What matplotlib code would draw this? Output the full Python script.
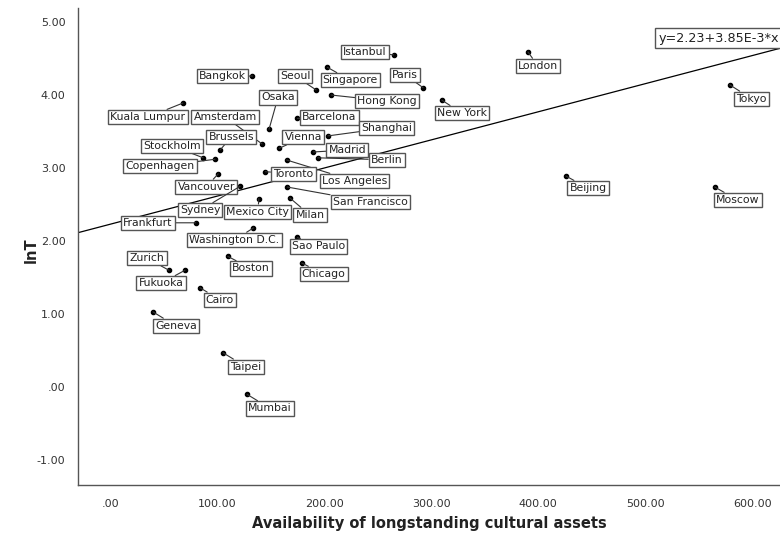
import numpy as np
import matplotlib
matplotlib.use("Agg")
import matplotlib.pyplot as plt

# City data
cities = ["Istanbul", "Seoul", "Singapore", "Paris", "Hong Kong", "Barcelona",
          "Shanghai", "Vienna", "Madrid", "Berlin", "Los Angeles", "Toronto",
          "San Francisco", "Milan", "Mexico City", "Osaka", "Amsterdam", "Bangkok",
          "Kuala Lumpur", "Brussels", "Stockholm", "Copenhagen", "Vancouver",
          "Sydney", "Frankfurt", "Washington D.C.", "Sao Paulo", "Boston",
          "Chicago", "Zurich", "Fukuoka", "Cairo", "Geneva", "Taipei", "Mumbai",
          "London", "New York", "Tokyo", "Beijing", "Moscow"]
assets = [265, 192.5, 203, 292.5, 206.5, 175,
          203.5, 158, 190, 194, 165, 145,
          165.5, 168, 139, 148.5, 142, 133,
          68, 103, 87, 98, 101,
          121.5, 80, 134, 175, 110,
          179, 55, 70, 84, 40, 105.5, 128,
          390.5, 310, 579, 426, 565]
lnT = [4.55, 4.07, 4.38, 4.10, 4.00, 3.68,
       3.44, 3.27, 3.22, 3.14, 3.11, 2.95,
       2.74, 2.59, 2.58, 3.53, 3.33, 4.26,
       3.89, 3.25, 3.14, 3.12, 2.92,
       2.75, 2.25, 2.18, 2.05, 1.79,
       1.70, 1.60, 1.60, 1.36, 1.03, 0.47, -0.10,
       4.59, 3.93, 4.14, 2.89, 2.74]

# fit line
intercept = 2.23
slope = 3.85e-3

# label offsets (pixels, right / down) from each dot
offsets = {
    "Istanbul": (-29, -3), "Seoul": (-21, -14), "Singapore": (23, 13),
    "Paris": (-18, -13), "Hong Kong": (56, 6), "Barcelona": (32, -1),
    "Shanghai": (59, -8), "Vienna": (24, -11), "Madrid": (34, -2),
    "Berlin": (69, 2), "Los Angeles": (68, 21), "Toronto": (28, 2),
    "San Francisco": (83, 15), "Milan": (20, 17), "Mexico City": (-1, 13),
    "Osaka": (9, -32), "Amsterdam": (-37, -27), "Bangkok": (-30, 0),
    "Kuala Lumpur": (-35, 14), "Brussels": (11, -13), "Stockholm": (-31, -12),
    "Copenhagen": (-55, 7), "Vancouver": (-12, 13), "Sydney": (-40, 24),
    "Frankfurt": (-48, 0), "Washington D.C.": (-19, 12), "Sao Paulo": (21, 9),
    "Boston": (23, 12), "Chicago": (22, 11), "Zurich": (-22, -12),
    "Fukuoka": (-24, 13), "Cairo": (20, 12), "Geneva": (23, 14),
    "Taipei": (23, 14), "Mumbai": (23, 14), "London": (10, 14),
    "New York": (20, 13), "Tokyo": (22, 14), "Beijing": (22, 12),
    "Moscow": (23, 13),
}

fig = plt.figure(figsize=(7.8, 5.43), dpi=100)
ax = fig.add_axes([0.1, 0.107, 0.9, 0.878])

xmin, xmax = -30, 626
ax.set_xlim(xmin, xmax)
ax.set_ylim(-1.34, 5.19)

# regression line
xs = np.array([xmin, xmax])
ax.plot(xs, intercept + slope * xs, color="black", lw=0.9, zorder=2)

ax.scatter(assets, lnT, s=9, color="black", zorder=4)

box = dict(boxstyle="square,pad=0.2", fc="white", ec="#555555", lw=1.0)
for name, x, y in zip(cities, assets, lnT):
    dx, dy = offsets[name]
    ax.annotate(name, xy=(x, y), xytext=(dx * 0.72, -dy * 0.72),
                textcoords="offset points", ha="center", va="center",
                fontsize=7.8, color="#222222", bbox=box, zorder=5,
                arrowprops=dict(arrowstyle="-", color="#333333", lw=0.8,
                                shrinkA=0, shrinkB=0))

ax.text(0.827, 0.937, "y=2.23+3.85E-3*x", transform=ax.transAxes,
        fontsize=9.2, color="#222222", ha="left", va="center",
        bbox=dict(boxstyle="square,pad=0.25", fc="white", ec="#555555", lw=1.0),
        clip_on=False, zorder=6)

ax.set_xticks(np.arange(0, 601, 100))
ax.set_xticklabels([".00", "100.00", "200.00", "300.00", "400.00", "500.00", "600.00"])
ax.set_yticks(np.arange(-1, 6, 1))
ax.set_yticklabels(["-1.00", ".00", "1.00", "2.00", "3.00", "4.00", "5.00"])
ax.tick_params(axis="x", length=0, labelsize=8, colors="#333333", pad=10)
ax.tick_params(axis="y", length=0, labelsize=8, colors="#333333", pad=9)

for side in ["top", "right"]:
    ax.spines[side].set_visible(False)
for side in ["left", "bottom"]:
    ax.spines[side].set_color("#555555")
    ax.spines[side].set_linewidth(1.0)

fig.text(0.55, 0.035, "Availability of longstanding cultural assets", fontsize=10.5,
         fontweight="bold", color="#222222", ha="center", va="center")
fig.text(0.04, 0.54, "lnT", fontsize=10.5, fontweight="bold", color="#222222",
         ha="center", va="center", rotation=90)

fig.savefig("out.png", dpi=100)
